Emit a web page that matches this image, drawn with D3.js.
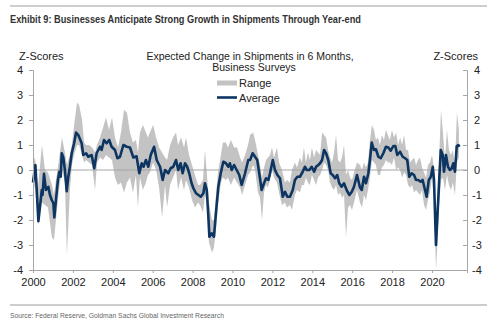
<!DOCTYPE html>
<html>
<head>
<meta charset="utf-8">
<script src="https://cdn.jsdelivr.net/npm/d3@7"></script>
<style>
  body { margin: 0; background: #fff; }
  #chart text { font-family: "Liberation Sans", Arial, sans-serif; fill: #222; }
</style>
</head>
<body>
<div id="chart"></div>
<script>

// Average of the surveys (decimal year, z-score)
var avgYears = [2000.00,2000.12,2000.27,2000.44,2000.48,2000.55,2000.65,2000.77,2000.85,2000.94,2001.02,2001.07,2001.15,2001.25,2001.32,2001.39,2001.44,2001.52,2001.60,2001.69,2001.77,2001.85,2001.94,2002.06,2002.16,2002.27,2002.44,2002.52,2002.66,2002.77,2002.94,2003.07,2003.19,2003.36,2003.44,2003.56,2003.69,2003.82,2003.94,2004.11,2004.23,2004.36,2004.53,2004.70,2004.86,2005.03,2005.19,2005.33,2005.45,2005.54,2005.66,2005.78,2005.90,2006.07,2006.20,2006.37,2006.50,2006.62,2006.78,2006.90,2007.03,2007.17,2007.28,2007.40,2007.50,2007.62,2007.73,2007.83,2007.95,2008.04,2008.17,2008.29,2008.41,2008.54,2008.62,2008.71,2008.79,2008.84,2008.96,2009.07,2009.17,2009.29,2009.41,2009.54,2009.67,2009.79,2009.87,2009.96,2010.08,2010.21,2010.34,2010.46,2010.63,2010.79,2010.88,2011.01,2011.13,2011.24,2011.34,2011.46,2011.58,2011.68,2011.80,2011.88,2012.02,2012.13,2012.25,2012.38,2012.52,2012.63,2012.75,2012.88,2013.02,2013.13,2013.25,2013.38,2013.52,2013.63,2013.72,2013.85,2013.97,2014.09,2014.19,2014.30,2014.39,2014.49,2014.59,2014.69,2014.80,2014.92,2015.02,2015.14,2015.25,2015.35,2015.47,2015.59,2015.72,2015.86,2015.98,2016.09,2016.24,2016.39,2016.48,2016.59,2016.69,2016.81,2016.89,2016.98,2017.09,2017.19,2017.31,2017.43,2017.56,2017.69,2017.81,2017.93,2018.06,2018.16,2018.26,2018.40,2018.53,2018.65,2018.76,2018.86,2018.98,2019.10,2019.20,2019.31,2019.43,2019.53,2019.65,2019.73,2019.84,2019.94,2020.04,2020.10,2020.20,2020.27,2020.37,2020.44,2020.54,2020.60,2020.70,2020.80,2020.90,2020.99,2021.07,2021.15,2021.24,2021.32,2021.38];
var avgValues = [-0.5,0.2,-2.05,-0.8,-1.0,-0.15,-0.8,-0.67,-1.0,-1.2,-1.33,-1.9,-1.2,-0.4,-0.07,-0.27,0.67,0.5,0.0,-0.85,-0.27,0.13,0.67,1.07,1.5,1.4,1.07,0.6,0.67,0.53,0.6,0.07,0.67,0.93,0.8,1.2,1.07,1.2,0.93,0.8,0.47,0.53,1.0,0.93,0.9,0.5,0.55,-0.13,0.27,0.13,0.4,0.13,0.6,0.93,0.4,0.13,-0.4,0.0,-0.13,0.07,0.13,0.4,0.0,0.27,-0.13,0.27,0.13,-0.13,-0.53,-0.73,-0.93,-1.0,-1.07,-0.93,-0.53,-0.8,-1.87,-2.67,-2.53,-2.67,-1.73,-0.67,-0.13,0.33,0.27,0.13,0.27,0.0,0.2,0.0,-0.2,-0.6,-0.13,0.4,0.4,0.67,0.53,0.4,-0.13,-0.8,-0.53,-0.33,-0.4,-0.13,0.4,0.0,-0.2,-0.33,-1.07,-0.87,-1.07,-1.07,-0.8,-0.4,-0.27,-0.27,-0.07,0.13,0.0,0.0,0.13,-0.07,0.13,0.2,0.27,0.4,0.8,0.67,0.4,-0.13,-0.2,-0.33,-0.2,-0.53,-0.67,-0.53,-0.8,-1.0,-0.87,-0.67,-0.2,-0.7,-0.8,-0.27,-0.53,-0.13,0.4,1.1,0.8,0.83,0.53,0.47,0.67,0.93,0.9,0.77,0.96,0.96,0.6,0.73,0.53,0.47,0.4,-0.27,-0.13,-0.2,-0.4,-0.4,-0.47,-0.4,-0.8,-1.07,-0.4,-0.27,0.13,-0.4,-3.0,-1.87,-0.27,0.8,0.6,-0.07,0.6,0.13,0.0,0.07,0.27,-0.07,0.96,1.0,0.93];

// Range across the surveys (decimal year, low, high)
var rangeYears = [2000.00,2000.10,2000.25,2000.45,2000.60,2000.75,2000.95,2001.05,2001.15,2001.30,2001.45,2001.60,2001.70,2001.85,2001.95,2002.06,2002.21,2002.31,2002.46,2002.56,2002.66,2002.81,2002.96,2003.11,2003.21,2003.36,2003.51,2003.66,2003.81,2003.96,2004.11,2004.26,2004.41,2004.56,2004.71,2004.86,2005.01,2005.16,2005.26,2005.36,2005.51,2005.66,2005.76,2005.86,2006.02,2006.17,2006.32,2006.47,2006.62,2006.72,2006.87,2007.02,2007.17,2007.27,2007.42,2007.57,2007.67,2007.82,2007.97,2008.12,2008.27,2008.37,2008.52,2008.62,2008.72,2008.82,2008.97,2009.07,2009.17,2009.27,2009.42,2009.52,2009.67,2009.77,2009.92,2010.08,2010.23,2010.38,2010.48,2010.63,2010.78,2010.88,2011.03,2011.13,2011.28,2011.38,2011.48,2011.58,2011.68,2011.78,2011.88,2011.98,2012.08,2012.23,2012.33,2012.48,2012.63,2012.73,2012.88,2012.98,2013.13,2013.23,2013.38,2013.48,2013.58,2013.68,2013.78,2013.88,2013.98,2014.09,2014.19,2014.29,2014.39,2014.49,2014.59,2014.69,2014.79,2014.89,2014.99,2015.09,2015.19,2015.29,2015.39,2015.49,2015.59,2015.69,2015.79,2015.89,2015.99,2016.09,2016.24,2016.39,2016.49,2016.59,2016.69,2016.79,2016.89,2016.99,2017.09,2017.19,2017.29,2017.39,2017.49,2017.59,2017.69,2017.79,2017.89,2017.99,2018.10,2018.20,2018.30,2018.40,2018.50,2018.60,2018.70,2018.80,2018.90,2019.00,2019.10,2019.20,2019.30,2019.40,2019.50,2019.60,2019.70,2019.80,2019.90,2020.00,2020.10,2020.20,2020.27,2020.35,2020.45,2020.55,2020.65,2020.75,2020.85,2020.95,2021.05,2021.15,2021.25,2021.35];
var rangeLow = [-0.9,-0.6,-2.2,-1.3,-1.4,-1.5,-2.7,-2.8,-2.0,-0.8,0.0,-0.5,-3.4,-0.8,0.2,0.6,1.0,1.0,0.6,0.3,0.4,0.3,0.2,-0.8,0.3,0.5,0.4,0.6,0.5,0.4,-0.3,-0.6,-0.5,-0.9,-0.5,-0.3,-0.9,-0.2,-1.5,-0.3,-0.8,-0.5,-0.2,-0.1,0.3,0.0,-0.7,-1.9,-0.6,-1.5,-0.6,-0.3,0.0,-0.8,-0.3,-0.8,-0.4,-0.7,-1.2,-1.5,-1.3,-1.4,-1.7,-1.0,-1.3,-2.9,-3.3,-3.1,-2.4,-1.4,-0.5,-0.3,-0.4,-0.3,-0.6,-0.3,-0.5,-0.7,-1.0,-0.6,-0.2,-0.1,0.2,0.0,-0.9,-1.1,-2.0,-0.9,-0.6,-0.7,-0.4,0.0,-0.3,-0.5,-0.9,-1.4,-1.3,-1.5,-1.4,-1.6,-1.0,-0.8,-0.9,-0.6,-0.6,-0.3,-0.5,-0.6,-0.2,-0.4,-0.6,-0.3,-0.2,0.0,0.3,0.2,0.0,-0.5,-0.7,-0.8,-0.6,-1.0,-0.9,-1.1,-1.0,-2.7,-1.5,-1.4,-1.6,-1.3,-0.8,-1.3,-1.5,-1.0,-1.2,-0.8,-0.3,0.4,0.3,0.2,-0.2,-0.2,0.1,0.2,0.4,0.3,0.3,0.2,0.5,0.0,0.1,0.0,-0.3,-0.1,-0.2,-0.6,-0.7,-0.6,-0.9,-0.8,-0.9,-1.0,-0.8,-1.4,-1.6,-1.2,-0.9,-0.3,-1.2,-4.0,-3.0,-1.5,-0.4,-0.3,-0.8,-0.2,-0.6,-0.8,-0.5,-1.0,0.3,0.5];
var rangeHigh = [0.3,0.5,-0.7,1.0,0.0,-0.1,-0.6,-1.0,-0.4,0.4,1.3,0.7,0.2,0.6,1.0,1.8,2.7,2.6,2.0,1.1,1.0,1.0,0.9,0.7,1.0,1.3,1.7,2.1,1.6,2.1,1.3,0.9,1.5,2.4,2.3,1.5,1.1,1.2,0.7,1.5,1.8,1.5,1.3,1.5,1.8,1.3,0.9,0.7,0.5,0.4,1.0,1.3,1.5,1.0,1.3,0.9,1.3,0.6,0.2,-0.2,-0.6,-0.6,-0.4,0.8,-0.2,-1.3,-2.0,-2.0,-1.0,-0.1,0.6,1.1,1.1,0.9,1.2,0.9,0.9,0.5,0.3,0.6,1.0,1.4,1.5,1.2,0.6,0.2,-0.3,0.1,0.4,0.5,0.6,0.9,0.5,0.9,0.3,0.0,-0.5,-0.4,-0.5,0.0,0.3,0.1,0.5,0.3,0.9,0.3,0.7,0.4,0.9,0.5,0.8,0.7,0.6,1.5,1.4,1.3,0.8,0.5,0.3,0.7,1.4,0.4,0.3,0.5,1.0,-0.2,0.0,-0.3,-0.4,-0.1,0.3,0.2,0.0,0.3,0.1,0.3,1.2,1.8,1.6,1.2,1.3,1.0,1.4,1.2,1.6,1.4,1.2,1.6,1.3,1.5,1.0,1.3,1.0,1.4,0.8,0.8,0.3,0.4,0.5,0.2,0.4,0.5,0.1,-0.1,-0.3,0.2,0.3,0.6,0.1,-2.6,-1.2,0.3,2.4,1.5,0.4,1.6,0.8,0.6,0.8,0.2,2.3,1.6];

var yearTicks = [2000, 2002, 2004, 2006, 2008, 2010, 2012, 2014, 2016, 2018, 2020];
var zTicks = [-4, -3, -2, -1, 0, 1, 2, 3, 4];

var avgData = avgYears.map(function (d, i) { return { year: d, value: avgValues[i] }; });
var rangeData = rangeYears.map(function (d, i) { return { year: d, lo: rangeLow[i], hi: rangeHigh[i] }; });

var W = 500, H = 329;
var margin = {top: 70, right: 33, bottom: 59, left: 33},
    width = W - margin.left - margin.right,
    height = H - margin.top - margin.bottom;

var svg = d3.select("#chart")
            .append("svg")
            .attr("width", W)
            .attr("height", H);

// header and footer rules
svg.append("line").attr("x1", 10).attr("x2", 487).attr("y1", 6).attr("y2", 6)
   .attr("stroke", "#bdbdbd").attr("stroke-width", 1.5);
svg.append("line").attr("x1", 10).attr("x2", 487).attr("y1", 305).attr("y2", 305)
   .attr("stroke", "#bdbdbd").attr("stroke-width", 1.5);

svg.append("text")
   .attr("x", 10).attr("y", 22.5)
   .attr("textLength", 351).attr("lengthAdjust", "spacingAndGlyphs")
   .style("font-family", "'Liberation Sans Narrow', 'Arial Narrow', 'Liberation Sans', sans-serif")
   .style("font-weight", "bold").style("font-size", "11px").style("fill", "#333")
   .text("Exhibit 9: Businesses Anticipate Strong Growth in Shipments Through Year-end");

svg.append("text")
   .attr("x", 10).attr("y", 318)
   .attr("textLength", 214).attr("lengthAdjust", "spacingAndGlyphs")
   .style("font-family", "'Liberation Sans Narrow', 'Arial Narrow', 'Liberation Sans', sans-serif")
   .style("font-size", "8px").style("fill", "#666")
   .text("Source: Federal Reserve, Goldman Sachs Global Investment Research");

var g = svg.append("g")
           .attr("transform", "translate(" + margin.left + "," + margin.top + ")");

// X scale in decimal years
var x = d3.scaleLinear()
          .domain([2000, 2000 + width / 19.95])
          .range([0, width]);

// Y scale in z-scores
var y = d3.scaleLinear()
          .domain([-4, 4])
          .range([height, 0]);

// Range band
var area = d3.area()
             .x(function (d) { return x(d.year); })
             .y0(function (d) { return y(d.lo); })
             .y1(function (d) { return y(d.hi); });

g.append("path")
 .datum(rangeData)
 .attr("d", area)
 .attr("fill", "#c3c3c3");

// zero line
g.append("line")
 .attr("x1", 0).attr("x2", width)
 .attr("y1", y(0)).attr("y2", y(0))
 .attr("stroke", "#a6a6a6").attr("stroke-width", 1);

// Average line
var line = d3.line()
             .x(function (d) { return x(d.year); })
             .y(function (d) { return y(d.value); });

g.append("path")
 .datum(avgData)
 .attr("d", line)
 .attr("fill", "none")
 .attr("stroke", "#0d3562")
 .attr("stroke-width", 2.6)
 .attr("stroke-linejoin", "round");

// Axes
var yLeft = g.append("g")
             .call(d3.axisLeft(y).tickValues(zTicks).tickSize(4).tickPadding(6)
                   .tickFormat(function (d) { return d; }));

var yRight = g.append("g")
              .attr("transform", "translate(" + width + ",0)")
              .call(d3.axisRight(y).tickValues(zTicks).tickSize(-4).tickPadding(10)
                    .tickFormat(function (d) { return d; }));

var xAxis = g.append("g")
             .attr("transform", "translate(0," + height + ")")
             .call(d3.axisBottom(x).tickValues(yearTicks).tickSize(3).tickPadding(5)
                   .tickFormat(function (d) { return d; }));

[yLeft, yRight, xAxis].forEach(function (ax) {
    ax.select(".domain").attr("stroke", "#a6a6a6");
    ax.selectAll(".tick line").attr("stroke", "#a6a6a6");
    ax.selectAll(".tick text")
      .style("font-family", "'Liberation Sans', Arial, sans-serif")
      .style("font-size", "11px").attr("fill", "#222");
});
yRight.selectAll(".tick text").attr("text-anchor", "middle").attr("x", 10);

// axis captions
svg.append("text").attr("x", 19).attr("y", 59.5)
   .style("font-size", "11px").text("Z-Scores");
svg.append("text").attr("x", 478).attr("y", 59.5).attr("text-anchor", "end")
   .style("font-size", "11px").text("Z-Scores");

// chart title
svg.append("text").attr("x", 250).attr("y", 59.5).attr("text-anchor", "middle")
   .style("font-size", "10.5px").text("Expected Change in Shipments in 6 Months,");
svg.append("text").attr("x", 254).attr("y", 71).attr("text-anchor", "middle")
   .style("font-size", "10.5px").text("Business Surveys");

// legend
var legend = svg.append("g");
legend.append("rect").attr("x", 217).attr("y", 80.5).attr("width", 20).attr("height", 5)
      .attr("fill", "#c3c3c3");
legend.append("text").attr("x", 239).attr("y", 87).style("font-size", "11px").text("Range");
legend.append("line").attr("x1", 217).attr("x2", 237).attr("y1", 97.5).attr("y2", 97.5)
      .attr("stroke", "#0d3562").attr("stroke-width", 2.6);
legend.append("text").attr("x", 239).attr("y", 101.5).style("font-size", "11px").text("Average");

</script>
</body>
</html>
